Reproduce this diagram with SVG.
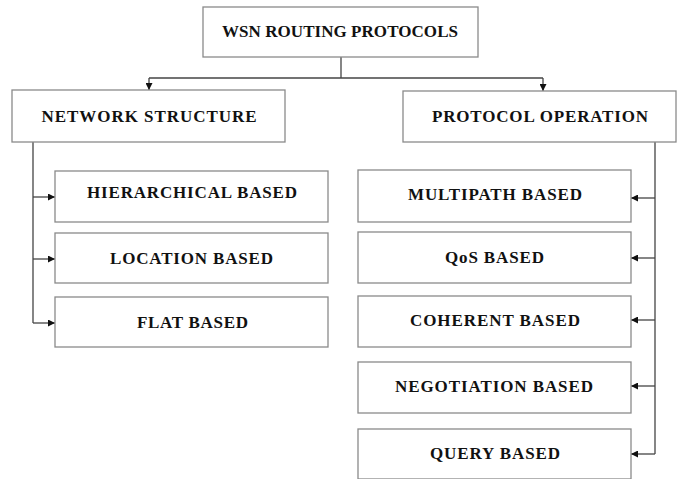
<svg xmlns="http://www.w3.org/2000/svg" width="680" height="479" viewBox="0 0 680 479">
<defs>
<style>
.box{fill:#fff;stroke:#8a8a8a;stroke-width:1.3}
.t{font-family:"Liberation Serif","Times New Roman",serif;font-weight:bold;font-size:17px;fill:#111;text-anchor:middle}
.c{fill:none;stroke:#444;stroke-width:1.3}
</style>
<marker id="ah" viewBox="0 0 8 8" refX="8" refY="4" markerWidth="7" markerHeight="7" markerUnits="userSpaceOnUse" orient="auto">
<path d="M0,0 L8,4 L0,8 z" fill="#111"/>
</marker>
</defs>
<rect width="680" height="479" fill="#fff"/>
<g id="connectors">
<path class="c" d="M341,57 V78"/>
<path class="c" d="M149,78 H543"/>
<path class="c" d="M149,78 V90" marker-end="url(#ah)"/>
<path class="c" d="M543,78 V91" marker-end="url(#ah)"/>
<path class="c" d="M33,142 V323"/>
<path class="c" d="M33,197 H55" marker-end="url(#ah)"/>
<path class="c" d="M33,259 H55" marker-end="url(#ah)"/>
<path class="c" d="M33,323 H55" marker-end="url(#ah)"/>
<path class="c" d="M655,142 V454"/>
<path class="c" d="M655,198 H631" marker-end="url(#ah)"/>
<path class="c" d="M655,258 H631" marker-end="url(#ah)"/>
<path class="c" d="M655,320 H631" marker-end="url(#ah)"/>
<path class="c" d="M655,386 H631" marker-end="url(#ah)"/>
<path class="c" d="M655,454 H631" marker-end="url(#ah)"/>
</g>
<g id="root"><rect class="box" x="203" y="7" width="275" height="50"/><text class="t" x="340" y="36.5" textLength="236" lengthAdjust="spacing">WSN ROUTING PROTOCOLS</text></g>
<g id="network"><rect class="box" x="12" y="90" width="273" height="52"/><text class="t" x="149" y="121.5" textLength="215" lengthAdjust="spacing">NETWORK STRUCTURE</text></g>
<g id="protocol"><rect class="box" x="403" y="91" width="273" height="51"/><text class="t" x="540" y="121.5" textLength="216" lengthAdjust="spacing">PROTOCOL OPERATION</text></g>
<g id="hierarchical"><rect class="box" x="55" y="171" width="273" height="51"/><text class="t" x="192" y="197.5" textLength="210" lengthAdjust="spacing">HIERARCHICAL BASED</text></g>
<g id="location"><rect class="box" x="55" y="233" width="273" height="50"/><text class="t" x="191.5" y="263.5" textLength="163" lengthAdjust="spacing">LOCATION BASED</text></g>
<g id="flat"><rect class="box" x="55" y="297" width="273" height="50"/><text class="t" x="192.5" y="327.5" textLength="111" lengthAdjust="spacing">FLAT BASED</text></g>
<g id="multipath"><rect class="box" x="358" y="170" width="273" height="52"/><text class="t" x="495" y="200" textLength="174" lengthAdjust="spacing">MULTIPATH BASED</text></g>
<g id="qos"><rect class="box" x="358" y="232" width="273" height="51"/><text class="t" x="494.5" y="262.5" textLength="99" lengthAdjust="spacing">QoS BASED</text></g>
<g id="coherent"><rect class="box" x="358" y="296" width="273" height="51"/><text class="t" x="495" y="326" textLength="170" lengthAdjust="spacing">COHERENT BASED</text></g>
<g id="negotiation"><rect class="box" x="358" y="362" width="273" height="51"/><text class="t" x="494" y="391.5" textLength="198" lengthAdjust="spacing">NEGOTIATION BASED</text></g>
<g id="query"><rect class="box" x="358" y="429" width="273" height="50"/><text class="t" x="495" y="458.5" textLength="130" lengthAdjust="spacing">QUERY BASED</text></g>
</svg>
